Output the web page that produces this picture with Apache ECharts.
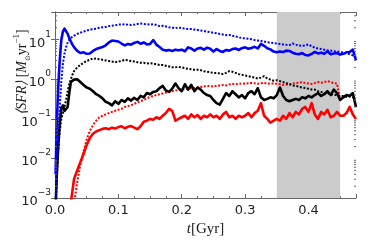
<!DOCTYPE html>
<html><head><meta charset="utf-8">
<script src="https://cdn.jsdelivr.net/npm/echarts@6/dist/echarts.min.js"></script>
<style>html,body{margin:0;padding:0;background:#fff}#c{width:374px;height:242px}</style>
</head><body><div id="c"></div>
<script>
// time axis (Gyr)
const times=[0.001,0.0025,0.005,0.0075,0.01,0.0125,0.015,0.0175,0.02,0.0225,0.025,0.0275,0.03,
0.035,0.04,0.045,0.05,0.055,0.06,0.065,0.07,0.075,0.08,
0.085,0.09,0.095,0.1,0.105,0.11,0.115,0.12,0.125,0.13,
0.135,0.14,0.145,0.15,0.155,0.16,0.165,0.17,0.175,0.18,
0.185,0.19,0.195,0.2,0.205,0.21,0.215,0.22,0.225,0.23,
0.235,0.24,0.245,0.25,0.255,0.26,0.265,0.27,0.275,0.28,
0.285,0.29,0.295,0.3,0.305,0.31,0.315,0.32,0.325,0.33,
0.335,0.34,0.345,0.35,0.355,0.36,0.365,0.37,0.375,0.38,
0.385,0.39,0.395,0.4,0.405,0.41,0.415,0.42,0.425,0.43,
0.435,0.44,0.445,0.45,0.455,0.46,0.465,0.47,0.475];

const blueSolid=[0.004,0.06,0.6,3,10,16,19,18.5,14,11,9,7.5,6.5,
5.2,4.6,4.8,4.4,4.5,5.2,5.8,6.2,6.5,7.2,
8.5,9.5,9.3,9.0,8.0,7.2,7.8,7.5,8.3,8.8,
7.9,8.5,7.6,7.8,9.8,7.5,6.5,5.6,5.3,5.5,
5.2,5.6,5.4,5.6,5.1,6.4,6.0,5.3,6.0,6.2,
5.6,6.3,5.9,5.0,5.8,5.2,4.9,5.5,5.3,5.8,
6.0,5.5,6.1,6.4,5.9,6.2,6.6,6.0,7.8,7.0,
6.1,5.7,5.0,4.8,5.0,4.9,5.3,5.2,4.7,4.4,
4.3,4.6,4.1,4.0,4.4,4.9,4.5,4.7,4.4,5.1,
4.3,4.5,4.6,4.2,4.4,4.8,4.9,5.6,3.0];

const blueDotted=[0.001,0.004,0.03,0.2,0.9,2.5,4.5,6.5,8.5,10,11,12,12.8,
14,15,16,17,18,18.5,19,20,20.5,21,
22,22.5,23,24,24,24.5,24,23.5,24,25,
25.5,25,24.5,24,24.5,23.5,22,22.5,21.5,20.5,
20,19.5,20.5,19.5,19,18.5,18.5,18,17.5,17,
16.5,16,15.5,15,14.5,14,13.5,13,13.2,12.5,
12,11.5,11,10.8,10.5,10.2,9.8,9.5,9.2,9.0,
8.6,8.4,8.2,8.0,7.8,7.6,7.4,7.3,8.0,7.5,
7.1,7.0,7.2,7.6,6.8,6.3,6.0,5.8,5.6,5.4,
5.3,5.1,5.0,4.9,4.7,4.5,4.3,4.0,3.8];

const blackSolid=[0.0005,0.003,0.02,0.08,0.18,0.22,0.16,0.17,0.2,0.45,0.85,0.95,0.98,
1.0,0.85,0.72,0.62,0.58,0.5,0.42,0.38,0.33,0.27,
0.25,0.22,0.28,0.24,0.3,0.27,0.33,0.29,0.34,0.3,
0.38,0.35,0.45,0.42,0.48,0.5,0.6,0.68,0.52,0.48,
0.58,0.78,0.6,0.5,0.75,0.55,0.72,0.5,0.62,0.55,
0.45,0.4,0.38,0.3,0.25,0.23,0.32,0.45,0.38,0.5,
0.42,0.35,0.4,0.33,0.45,0.5,0.42,0.6,0.35,0.3,
0.32,0.35,0.33,0.4,0.62,0.38,0.3,0.28,0.3,0.32,
0.3,0.35,0.33,0.38,0.35,0.4,0.45,0.38,0.42,0.5,
0.4,0.55,0.45,0.3,0.35,0.4,0.38,0.45,0.2];

const blackDotted=[0.0006,0.003,0.015,0.05,0.1,0.14,0.2,0.3,0.5,0.75,1.0,1.3,1.6,
2.0,2.3,2.6,2.9,3.1,3.4,3.3,3.2,3.1,3.0,
2.9,2.8,2.7,2.8,2.9,3.1,3.0,2.9,2.8,2.7,
2.6,2.6,2.5,2.55,2.5,2.4,2.3,2.3,2.2,2.1,
2.0,2.0,2.05,2.0,1.9,1.85,1.8,1.75,1.75,1.7,
1.6,1.55,1.5,1.45,1.45,1.4,1.35,1.45,1.6,1.55,
1.45,1.35,1.3,1.25,1.2,1.15,1.1,1.05,1.1,1.2,
1.05,0.98,0.92,0.95,0.9,0.85,0.8,0.75,0.7,0.68,
0.65,0.62,0.6,0.58,0.55,0.55,0.5,0.48,0.45,0.45,
0.42,0.4,0.4,0.38,0.38,0.36,0.37,0.35,0.33];

const redSolid=[null,null,null,null,null,null,null,null,null,null,0.0008,0.0015,0.003,
0.005,0.008,0.013,0.022,0.033,0.042,0.048,0.052,0.056,0.058,
0.055,0.06,0.057,0.062,0.065,0.058,0.063,0.066,0.06,0.055,
0.065,0.085,0.09,0.1,0.095,0.11,0.1,0.12,0.14,0.18,
0.16,0.09,0.1,0.11,0.12,0.1,0.13,0.11,0.125,0.1,
0.12,0.11,0.13,0.11,0.12,0.1,0.13,0.15,0.11,0.12,
0.1,0.12,0.11,0.12,0.14,0.11,0.14,0.16,0.25,0.12,
0.1,0.08,0.09,0.1,0.09,0.12,0.1,0.14,0.11,0.15,
0.13,0.18,0.2,0.15,0.25,0.13,0.1,0.15,0.13,0.17,
0.11,0.12,0.15,0.12,0.12,0.14,0.2,0.13,0.1];

const redDotted=[null,null,null,null,null,null,null,null,null,null,null,null,0.0007,
0.0025,0.007,0.015,0.03,0.05,0.07,0.09,0.11,0.12,0.13,
0.14,0.15,0.16,0.17,0.18,0.2,0.21,0.22,0.24,0.26,
0.28,0.3,0.33,0.36,0.38,0.4,0.42,0.44,0.46,0.48,
0.5,0.52,0.54,0.55,0.57,0.58,0.59,0.6,0.62,0.64,
0.66,0.68,0.67,0.66,0.68,0.7,0.72,0.7,0.74,0.76,
0.75,0.77,0.79,0.77,0.79,0.81,0.79,0.77,0.79,0.81,
0.79,0.77,0.79,0.77,0.75,0.72,0.73,0.75,0.78,0.8,
0.82,0.85,0.8,0.78,0.76,0.8,0.85,0.82,0.85,0.9,
0.85,0.8,0.78,0.3,null,null,null,null,null];

const xTicks=[0,0.1,0.2,0.3,0.4];
const yMinorTicks=[0.002,0.003,0.004,0.005,0.006,0.007,0.008,0.009,
0.02,0.03,0.04,0.05,0.06,0.07,0.08,0.09,
0.2,0.3,0.4,0.5,0.6,0.7,0.8,0.9,
2,3,4,5,6,7,8,9,20,30,40];
const shadeBand=[0.35,0.45];
const X_MIN=0, X_MAX=0.475, Y_MIN=0.001, Y_MAX=50;

function pairs(v){return times.map((t,i)=>[t,v[i]]);}

const chart=echarts.init(document.getElementById('c'),null,{renderer:'canvas'});
const frame='#666';
const supFmt=function(v){
  const l=Math.log10(v), e=Math.round(l);
  if(Math.abs(l-e)>1e-6) return '';
  return '{b|10}{s|'+(e<0?'\u2212'+(-e):e)+'}';
};
const solid=(c)=>({type:'line',showSymbol:false,symbol:'none',clip:true,z:3,
  lineStyle:{color:c,width:2.6,join:'round'},itemStyle:{color:c}});
const dotted=(c)=>({type:'line',showSymbol:false,symbol:'none',clip:true,z:3,
  lineStyle:{color:c,width:2,type:[2,1.6],cap:'butt'},itemStyle:{color:c}});

const option={
  animation:false,
  backgroundColor:'#fff',
  grid:{left:55,right:18,top:12,bottom:38,containLabel:false},
  xAxis:[{
    type:'value',min:X_MIN,max:X_MAX,interval:0.1,position:'bottom',
    axisLine:{show:true,lineStyle:{color:frame,width:1}},
    axisTick:{show:true,inside:true,length:4,lineStyle:{color:frame}},
    minorTick:{show:true,splitNumber:4,length:2,lineStyle:{color:frame}},
    splitLine:{show:false},
    axisLabel:{color:'#222',fontSize:13,fontFamily:'DejaVu Sans',margin:6,
      formatter:v=>xTicks.some(t=>Math.abs(t-v)<1e-9)?v.toFixed(1):''},
    name:'{i|t}{n|[Gyr]}',nameLocation:'middle',nameGap:17,
    nameTextStyle:{rich:{i:{fontStyle:'italic',fontFamily:'Liberation Serif',fontSize:15,color:'#222'},
      n:{fontFamily:'Liberation Serif',fontSize:15,color:'#222'}}}
  },{
    type:'value',min:X_MIN,max:X_MAX,interval:0.1,position:'top',
    axisLine:{show:true,lineStyle:{color:frame,width:1}},
    axisTick:{show:true,inside:true,length:4,lineStyle:{color:frame}},
    minorTick:{show:true,splitNumber:4,length:2,lineStyle:{color:frame}},
    splitLine:{show:false},axisLabel:{show:false}
  }],
  yAxis:[{
    type:'log',logBase:10,min:Y_MIN,max:Y_MAX,position:'left',
    axisLine:{show:true,lineStyle:{color:frame,width:1}},
    axisTick:{show:true,inside:true,length:4,lineStyle:{color:frame}},
    splitLine:{show:false},
    axisLabel:{margin:4,showMaxLabel:false,formatter:supFmt,
      rich:{b:{fontSize:13,fontFamily:'DejaVu Sans',color:'#222',lineHeight:20,verticalAlign:'bottom'},
            s:{fontSize:9,fontFamily:'DejaVu Sans',color:'#222',lineHeight:11,verticalAlign:'top'}}}
  },{
    type:'log',logBase:10,min:Y_MIN,max:Y_MAX,position:'right',
    axisLine:{show:true,lineStyle:{color:frame,width:1}},
    axisTick:{show:true,inside:true,length:4,lineStyle:{color:frame}},
    splitLine:{show:false},axisLabel:{show:false}
  }],
  graphic:[{
    type:'text',x:22,y:72,rotation:Math.PI/2,
    style:{text:'{i|\u27E8SFR\u27E9} {n|[}{i|M}{d|\u2299}{n|yr}{u|\u22121}{n|]}',
      align:'center',verticalAlign:'middle',
      rich:{i:{fontStyle:'italic',fontFamily:'Liberation Serif',fontSize:14,fill:'#222',lineHeight:20,verticalAlign:'middle'},
            n:{fontFamily:'Liberation Serif',fontSize:14,fill:'#222',lineHeight:20},
            d:{fontFamily:'DejaVu Sans',fontSize:7,fill:'#222',lineHeight:10,verticalAlign:'bottom'},
            u:{fontFamily:'Liberation Serif',fontSize:9,fill:'#222',lineHeight:12,verticalAlign:'top'}}}
  }],
  series:[
    {type:'line',data:[],z:1,silent:true,
     markArea:{silent:true,itemStyle:{color:'#cbcbcb'},data:[[{xAxis:shadeBand[0]},{xAxis:shadeBand[1]}]]}},
    Object.assign(dotted('#ff0000'),{data:pairs(redDotted)}),
    Object.assign(solid('#ff0000'),{data:pairs(redSolid)}),
    Object.assign(dotted('#000000'),{data:pairs(blackDotted)}),
    Object.assign(solid('#000000'),{data:pairs(blackSolid)}),
    Object.assign(dotted('#0000ff'),{data:pairs(blueDotted)}),
    Object.assign(solid('#0000ff'),{data:pairs(blueSolid)}),
    {type:'custom',silent:true,z:4,clip:false,data:yMinorTicks.map(v=>[X_MIN,v]),
     renderItem:function(params,api){
       const v=api.value(1);
       const p0=api.coord([X_MIN,v]), p1=api.coord([X_MAX,v]);
       return {type:'group',children:[
         {type:'line',shape:{x1:p0[0],y1:p0[1],x2:p0[0]+2,y2:p0[1]},style:{stroke:frame,lineWidth:1}},
         {type:'line',shape:{x1:p1[0],y1:p1[1],x2:p1[0]-2,y2:p1[1]},style:{stroke:frame,lineWidth:1}}
       ]};
     }}
  ]
};
chart.setOption(option);
</script></body></html>
